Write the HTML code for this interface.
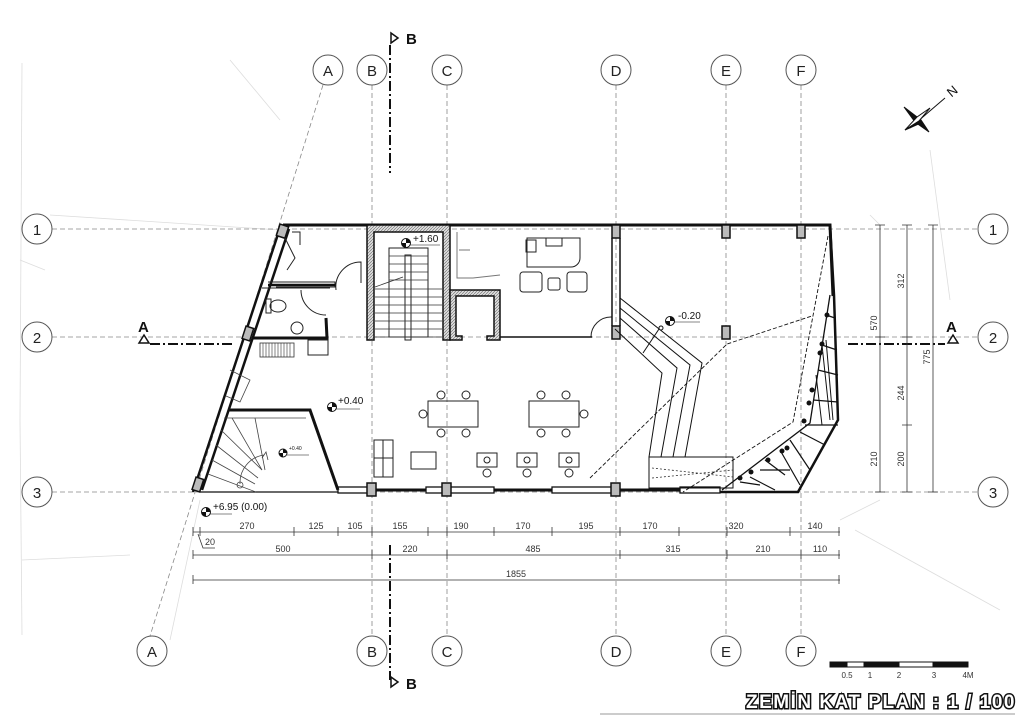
<!DOCTYPE html>
<html><head><meta charset="utf-8"><style>
html,body{margin:0;padding:0;background:#fff}
svg{display:block}
text{font-family:"Liberation Sans",sans-serif}
.g{stroke:#888;stroke-width:0.8;stroke-dasharray:5 3;fill:none}
.bub{fill:#fff;stroke:#555;stroke-width:1}
.bt{font-size:15px;text-anchor:middle;fill:#222}
.w{stroke:#111;stroke-width:3;fill:none}
.t{stroke:#222;stroke-width:1;fill:none}
.col{fill:#bbb;stroke:#111;stroke-width:1.5}
.d{font-size:9px;fill:#333;text-anchor:middle}
.lg{stroke:#ddd;stroke-width:0.8;fill:none}
</style></head><body>
<svg width="1024" height="724" viewBox="0 0 1024 724" xmlns="http://www.w3.org/2000/svg">
<defs><pattern id="h" width="3" height="3" patternUnits="userSpaceOnUse"><rect width="3" height="3" fill="#ddd"/><path d="M0 3L3 0" stroke="#666" stroke-width="0.6"/></pattern></defs>
<path class="lg" d="M22 63 L20 420 L22 635 M50 215 L280 230 M20 260 L45 270 M22 560 L130 555 M870 215 L880 225 M840 520 L880 500 M930 150 L950 300 M855 530 L1000 610 M230 60 L280 120 M200 500 L170 640"/>
<line class="g" x1="323" y1="85" x2="150" y2="636"/>
<line class="g" x1="372" y1="85" x2="372" y2="636"/>
<line class="g" x1="447" y1="85" x2="447" y2="636"/>
<line class="g" x1="616" y1="85" x2="616" y2="636"/>
<line class="g" x1="726" y1="85" x2="726" y2="636"/>
<line class="g" x1="801" y1="85" x2="801" y2="636"/>
<line class="g" x1="52" y1="229" x2="978" y2="229"/>
<line class="g" x1="52" y1="337" x2="978" y2="337"/>
<line class="g" x1="52" y1="492" x2="978" y2="492"/>
<g>
<circle class="bub" cx="328" cy="70" r="15"/><text class="bt" x="328" y="76">A</text>
<circle class="bub" cx="372" cy="70" r="15"/><text class="bt" x="372" y="76">B</text>
<circle class="bub" cx="447" cy="70" r="15"/><text class="bt" x="447" y="76">C</text>
<circle class="bub" cx="616" cy="70" r="15"/><text class="bt" x="616" y="76">D</text>
<circle class="bub" cx="726" cy="70" r="15"/><text class="bt" x="726" y="76">E</text>
<circle class="bub" cx="801" cy="70" r="15"/><text class="bt" x="801" y="76">F</text>
<circle class="bub" cx="152" cy="651" r="15"/><text class="bt" x="152" y="657">A</text>
<circle class="bub" cx="372" cy="651" r="15"/><text class="bt" x="372" y="657">B</text>
<circle class="bub" cx="447" cy="651" r="15"/><text class="bt" x="447" y="657">C</text>
<circle class="bub" cx="616" cy="651" r="15"/><text class="bt" x="616" y="657">D</text>
<circle class="bub" cx="726" cy="651" r="15"/><text class="bt" x="726" y="657">E</text>
<circle class="bub" cx="801" cy="651" r="15"/><text class="bt" x="801" y="657">F</text>
<circle class="bub" cx="37" cy="229" r="15"/><text class="bt" x="37" y="235">1</text>
<circle class="bub" cx="37" cy="337" r="15"/><text class="bt" x="37" y="343">2</text>
<circle class="bub" cx="37" cy="492" r="15"/><text class="bt" x="37" y="498">3</text>
<circle class="bub" cx="993" cy="229" r="15"/><text class="bt" x="993" y="235">1</text>
<circle class="bub" cx="993" cy="337" r="15"/><text class="bt" x="993" y="343">2</text>
<circle class="bub" cx="993" cy="492" r="15"/><text class="bt" x="993" y="498">3</text>
</g>
<g stroke="#111" stroke-width="2" fill="none" stroke-dasharray="10 3 2 3">
<line x1="390" y1="45" x2="390" y2="173"/>
<line x1="390" y1="545" x2="390" y2="680"/>
<line x1="150" y1="344" x2="235" y2="344"/>
<line x1="848" y1="344" x2="945" y2="344"/>
</g>
<g fill="#fff" stroke="#111" stroke-width="1.5">
<path d="M391 33 L398 38 L391 43Z"/><path d="M391 677 L398 682 L391 687Z"/>
<path d="M139 343 L144 335 L149 343Z"/><path d="M948 343 L953 335 L958 343Z"/>
</g>
<g font-weight="bold" font-size="15" fill="#111" font-family="Liberation Sans">
<text x="406" y="44">B</text><text x="406" y="689">B</text>
<text x="138" y="332">A</text><text x="946" y="332">A</text>
</g>
<path class="w" d="M283 225 L830 225 L833 296"/>
<path d="M281 225 L193 492 M289 229 L202 490" stroke="#111" stroke-width="2.5" fill="none"/>
<path class="w" d="M338 490 L720 490"/>
<path d="M200 492 L338 492" stroke="#111" stroke-width="1.2"/>
<g fill="#fff" stroke="#111" stroke-width="1.3">
<rect x="338" y="487" width="30" height="6"/><rect x="426" y="487" width="68" height="6"/>
<rect x="552" y="487" width="60" height="6"/><rect x="680" y="487" width="40" height="6"/>
</g>
<g class="col">
<rect x="278" y="225" width="9" height="12" transform="rotate(18 282 231)"/>
<rect x="244" y="327" width="8" height="13" transform="rotate(18 248 333)"/>
<rect x="194" y="478" width="8" height="13" transform="rotate(18 198 484)"/>
<rect x="367" y="483" width="9" height="13"/><rect x="442" y="483" width="9" height="13"/>
<rect x="611" y="483" width="9" height="13"/>
<rect x="612" y="225" width="8" height="13"/><rect x="722" y="225" width="8" height="13"/><rect x="797" y="225" width="8" height="13"/>
<rect x="612" y="326" width="8" height="13"/><rect x="722" y="326" width="8" height="13"/>
</g>
<path d="M367 225 L450 225 L450 340 L443 340 L443 232 L374 232 L374 340 L367 340Z" fill="url(#h)" stroke="#111" stroke-width="1.5"/>
<path d="M450 290 L500 290 L500 340 L487 340 L487 336 L494 336 L494 296 L456 296 L456 336 L462 336 L462 340 L450 340Z" fill="url(#h)" stroke="#111" stroke-width="1.5"/>
<rect x="389" y="248" width="39" height="89" class="t"/>
<rect x="405" y="255" width="6" height="85" class="t" fill="#fff"/>
<g stroke="#333" stroke-width="0.8">
<line x1="375" y1="289" x2="442" y2="289"/><line x1="375" y1="297" x2="442" y2="297"/><line x1="375" y1="305" x2="442" y2="305"/>
<line x1="375" y1="313" x2="442" y2="313"/><line x1="375" y1="321" x2="442" y2="321"/><line x1="375" y1="329" x2="442" y2="329"/>
<line x1="375" y1="337" x2="442" y2="337"/><line x1="389" y1="256" x2="428" y2="256"/><line x1="389" y1="264" x2="428" y2="264"/>
<line x1="389" y1="272" x2="428" y2="272"/><line x1="389" y1="280" x2="428" y2="280"/>
<line x1="375" y1="287" x2="403" y2="277"/>
</g>
<line x1="389" y1="278" x2="389" y2="333" stroke="#333" stroke-width="0.8" stroke-dasharray="3 2"/>
<path d="M268 282 L335 282 L335 287 L276 287" class="t" stroke-width="1.5"/>
<path d="M268 285 L336 285" stroke="#111" stroke-width="2.5"/>
<path d="M262 288 L330 288" class="t"/>
<path d="M326 318 L327 338 L253 338" stroke="#111" stroke-width="3" fill="none"/>
<path d="M336 290 A25 25 0 0 1 361 262 L361 283" class="t"/>
<path d="M301 290 A25 25 0 0 0 326 315" class="t"/>
<ellipse cx="278" cy="306" rx="8" ry="6" class="t"/><rect x="266" y="299" width="5" height="14" class="t"/>
<circle cx="297" cy="328" r="6" class="t"/>
<rect x="260" y="343" width="34" height="14" fill="#fff" stroke="#333" stroke-width="0.8"/>
<g stroke="#333" stroke-width="0.6"><path d="M263 343v14M266 343v14M269 343v14M272 343v14M275 343v14M278 343v14M281 343v14M284 343v14M287 343v14M290 343v14"/></g>
<rect x="308" y="340" width="20" height="15" class="t" stroke="#777"/>
<path d="M292 232 L300 232 L300 245 M285 238 L295 258 L287 270" class="t" stroke="#777"/>
<path d="M228 410 L310 410 L338 490" stroke="#111" stroke-width="3" fill="none"/>
<g stroke="#444" stroke-width="0.8" fill="none">
<line x1="224" y1="418" x2="306" y2="418"/>
<line x1="221" y1="430" x2="262" y2="470"/><line x1="216" y1="445" x2="258" y2="478"/>
<line x1="212" y1="460" x2="255" y2="484"/><line x1="208" y1="474" x2="256" y2="492"/>
<line x1="232" y1="418" x2="262" y2="470"/><line x1="255" y1="418" x2="265" y2="470"/>
<path d="M240 484 A28 28 0 0 1 264 455"/><circle cx="240" cy="485" r="3"/>
<path d="M262 458 L266 452 L268 460"/>
<path d="M230 370 L250 380 L240 402 L226 396"/>
</g>
<g class="t" stroke="#444" stroke-width="0.9">
<rect x="428" y="401" width="50" height="26"/><rect x="529" y="401" width="50" height="26"/>
<circle cx="441" cy="395" r="4"/><circle cx="466" cy="395" r="4"/><circle cx="441" cy="433" r="4"/><circle cx="466" cy="433" r="4"/><circle cx="423" cy="414" r="4"/>
<circle cx="541" cy="395" r="4"/><circle cx="566" cy="395" r="4"/><circle cx="541" cy="433" r="4"/><circle cx="566" cy="433" r="4"/><circle cx="584" cy="414" r="4"/>
<rect x="374" y="440" width="19" height="37"/><line x1="374" y1="458" x2="393" y2="458"/><line x1="383" y1="440" x2="383" y2="477"/>
<rect x="411" y="452" width="25" height="17"/>
<rect x="477" y="453" width="20" height="14"/><circle cx="487" cy="460" r="3"/><circle cx="487" cy="473" r="4"/>
<rect x="517" y="453" width="20" height="14"/><circle cx="527" cy="460" r="3"/><circle cx="527" cy="473" r="4"/>
<rect x="559" y="453" width="20" height="14"/><circle cx="569" cy="460" r="3"/><circle cx="569" cy="473" r="4"/>
<path d="M527 238 L580 238 L580 258 A9 9 0 0 1 571 267 L527 267Z"/>
<rect x="546" y="238" width="16" height="8"/><rect x="526" y="240" width="10" height="12"/>
<rect x="520" y="272" width="22" height="20" rx="3"/><rect x="567" y="272" width="20" height="20" rx="3"/><rect x="548" y="278" width="12" height="12" rx="2"/>
<path d="M457 232 L457 278 L473 278 L500 275 M459 250 L470 250" stroke="#777"/>
<path d="M591 337 A20 20 0 0 1 612 317" />
</g>
<line x1="500" y1="337" x2="592" y2="337" stroke="#111" stroke-width="1.5"/>
<path d="M612 238 L612 326 M620 238 L620 326" stroke="#111" stroke-width="1.5"/>
<g stroke="#111" stroke-width="1" fill="none">
<path d="M620 298 L702 363 L685 457"/><path d="M620 308 L690 365 L673 457"/>
<path d="M620 318 L677 368 L661 457"/><path d="M615 329 L662 373 L649 457"/>
<path d="M659 329 L643 353"/><circle cx="661" cy="328" r="2" fill="#fff"/>
<rect x="649" y="457" width="84" height="31"/>
</g>
<g stroke="#333" stroke-width="0.8" fill="none" stroke-dasharray="2 2">
<path d="M652 468 L733 477 M652 478 L733 470"/>
</g>
<g stroke="#111" stroke-width="0.9" fill="none" stroke-dasharray="4 2">
<path d="M590 478 L727 344 L812 316"/><path d="M828 236 L793 422 L683 492"/>
</g>
<g stroke="#111" fill="none">
<path d="M830 225 L834 295 L838 420 L798 492 L720 492" stroke-width="2.5"/>
<path d="M830 295 L810 423 L722 490" stroke-width="1.3"/>
<path d="M826 315 L835 318 M822 345 L837 350 M818 370 L838 375 M813 400 L838 402 M805 425 L838 425 M800 432 L825 445 M790 440 L810 470 M780 450 L800 485 M765 460 L785 475 M760 470 L790 470 M750 477 L775 490 M740 482 L760 485" stroke-width="1.2"/>
<path d="M822 345 L830 420 M816 375 L822 425 M826 340 L833 420" stroke-width="1"/>
</g>
<g fill="#111">
<circle cx="827" cy="315" r="2.5"/><circle cx="822" cy="344" r="2.5"/><circle cx="820" cy="353" r="2.5"/><circle cx="812" cy="390" r="2.5"/><circle cx="809" cy="403" r="2.5"/><circle cx="804" cy="421" r="2.5"/>
<circle cx="787" cy="448" r="2.5"/><circle cx="782" cy="451" r="2.5"/><circle cx="768" cy="460" r="2.5"/><circle cx="751" cy="472" r="2.5"/><circle cx="740" cy="478" r="2.5"/>
</g>
<g font-size="10" fill="#111">
<circle cx="406" cy="243" r="4.5" fill="#fff" stroke="#111"/><path d="M406 238.5 A4.5 4.5 0 0 1 410.5 243 L406 243Z M406 247.5 A4.5 4.5 0 0 1 401.5 243 L406 243Z"/><text x="413" y="242">+1.60</text><line x1="410" y1="245" x2="440" y2="245" stroke="#111" stroke-width="0.6"/>
<circle cx="332" cy="407" r="4.5" fill="#fff" stroke="#111"/><path d="M332 402.5 A4.5 4.5 0 0 1 336.5 407 L332 407Z M332 411.5 A4.5 4.5 0 0 1 327.5 407 L332 407Z"/><text x="338" y="404">+0.40</text><line x1="336" y1="409" x2="360" y2="409" stroke="#111" stroke-width="0.6"/>
<circle cx="283" cy="453" r="4" fill="#fff" stroke="#111"/><path d="M283 449 A4 4 0 0 1 287 453 L283 453Z M283 457 A4 4 0 0 1 279 453 L283 453Z"/><text x="289" y="450" font-size="5">+0.40</text><line x1="287" y1="455" x2="309" y2="455" stroke="#111" stroke-width="0.6"/>
<circle cx="670" cy="321" r="4.5" fill="#fff" stroke="#111"/><path d="M670 316.5 A4.5 4.5 0 0 1 674.5 321 L670 321Z M670 325.5 A4.5 4.5 0 0 1 665.5 321 L670 321Z"/><text x="678" y="319">-0.20</text><line x1="674" y1="322" x2="700" y2="322" stroke="#111" stroke-width="0.6"/>
<circle cx="206" cy="512" r="4.5" fill="#fff" stroke="#111"/><path d="M206 507.5 A4.5 4.5 0 0 1 210.5 512 L206 512Z M206 516.5 A4.5 4.5 0 0 1 201.5 512 L206 512Z"/><text x="213" y="510">+6.95 (0.00)</text><line x1="210" y1="514" x2="232" y2="514" stroke="#111" stroke-width="0.6"/>
</g>
<g stroke="#333" stroke-width="0.8">
<line x1="193" y1="532" x2="840" y2="532"/><line x1="193" y1="555" x2="840" y2="555"/><line x1="193" y1="580" x2="840" y2="580"/>
<path d="M193 527v9M200 527v9M294 527v9M338 527v9M372 527v9M428 527v9M447 527v9M494 527v9M552 527v9M620 527v9M679 527v9M727 527v9M790 527v9M839 527v9"/>
<path d="M193 550v9M372 550v9M447 550v9M620 550v9M727 550v9M801 550v9M839 550v9"/>
<path d="M193 575v9M839 575v9"/>
<path d="M198 534 L203 548 L215 548" fill="none"/>
</g>
<g class="d">
<text x="247" y="529">270</text><text x="316" y="529">125</text><text x="355" y="529">105</text><text x="400" y="529">155</text>
<text x="461" y="529">190</text><text x="523" y="529">170</text><text x="586" y="529">195</text><text x="650" y="529">170</text>
<text x="736" y="529">320</text><text x="815" y="529">140</text><text x="210" y="545">20</text>
<text x="283" y="552">500</text><text x="410" y="552">220</text><text x="533" y="552">485</text><text x="673" y="552">315</text>
<text x="763" y="552">210</text><text x="820" y="552">110</text><text x="516" y="577">1855</text>
</g>
<g stroke="#333" stroke-width="0.8">
<line x1="880" y1="225" x2="880" y2="492"/><line x1="907" y1="225" x2="907" y2="492"/><line x1="933" y1="225" x2="933" y2="492"/>
<path d="M875 225h10M875 337h10M875 492h10M902 225h10M902 337h10M902 425h10M902 492h10M928 225h10M928 492h10"/>
</g>
<g class="d">
<text transform="translate(904 281) rotate(-90)">312</text><text transform="translate(877 323) rotate(-90)">570</text>
<text transform="translate(930 357) rotate(-90)">775</text><text transform="translate(904 393) rotate(-90)">244</text>
<text transform="translate(877 459) rotate(-90)">210</text><text transform="translate(904 459) rotate(-90)">200</text>
</g>
<g stroke="#111" fill="#111">
<line x1="910" y1="128" x2="945" y2="98" stroke-width="1"/>
<path d="M904 107 L921 120 L929 132 L915 122Z"/>
<path d="M905 130 L919 121 L930 108 L917 117Z" fill="#fff"/>
<path d="M905 130 L919 121 L921 123Z"/>
</g>
<text x="948" y="96" font-size="13" fill="#111" transform="rotate(-40 952 92)">N</text>
<g stroke="#111" stroke-width="1">
<rect x="830" y="662" width="17" height="5" fill="#111"/><rect x="847" y="662" width="17" height="5" fill="#fff"/>
<rect x="864" y="662" width="35" height="5" fill="#111"/><rect x="899" y="662" width="34" height="5" fill="#fff"/><rect x="933" y="662" width="35" height="5" fill="#111"/>
</g>
<g font-family="Liberation Serif" font-size="8" fill="#333" text-anchor="middle">
<text x="847" y="678">0.5</text><text x="870" y="678">1</text><text x="899" y="678">2</text><text x="934" y="678">3</text><text x="968" y="678">4M</text>
</g>
<text x="1016" y="708" text-anchor="end" font-family="Liberation Serif" font-weight="bold" font-size="19" fill="#fff" stroke="#111" stroke-width="3" paint-order="stroke" letter-spacing="1.5">ZEMİN KAT PLAN : 1 / 100</text>
<line x1="600" y1="714" x2="1015" y2="714" stroke="#999" stroke-width="1"/>
</svg>
</body></html>
